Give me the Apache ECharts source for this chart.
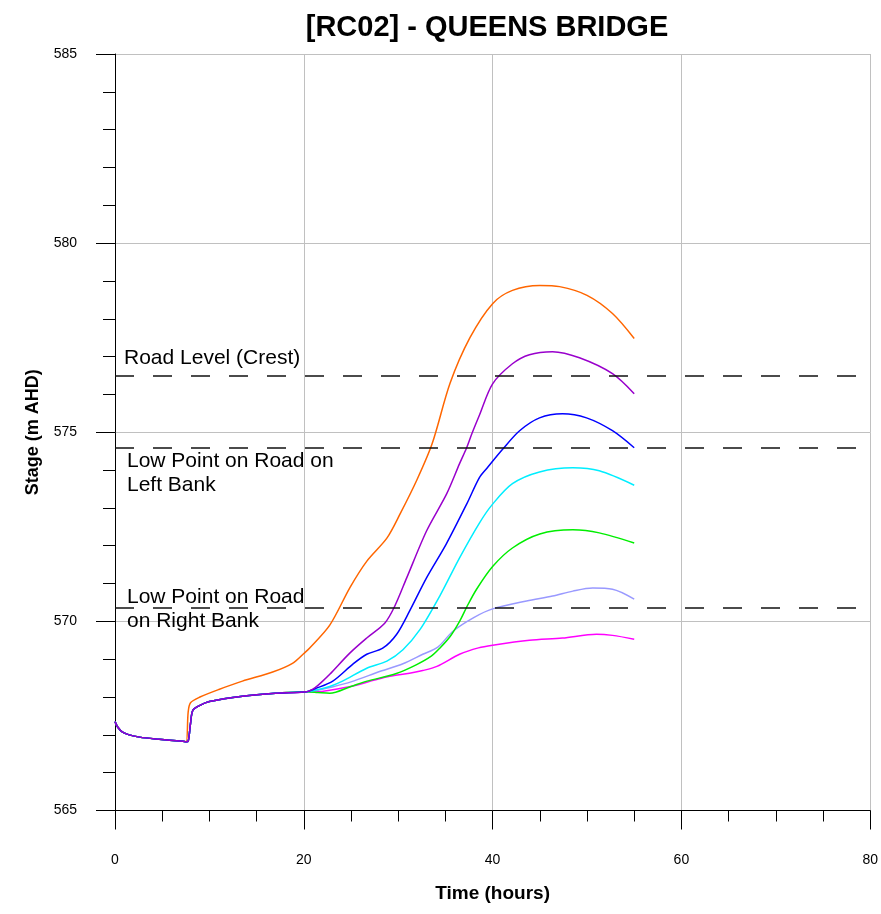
<!DOCTYPE html>
<html>
<head>
<meta charset="utf-8">
<title>[RC02] - QUEENS BRIDGE</title>
<script src="https://cdn.jsdelivr.net/npm/echarts@6/dist/echarts.min.js"></script>
<style>
  html, body { margin: 0; padding: 0; background: #fff; }
  #main { width: 881px; height: 914px; }
</style>
</head>
<body>
<div id="main"></div>
<script>
// stage hydrographs (time in hours, stage in m AHD)

// falling limb before the jump, shared by every run
var baseTimes = [0, 0.3, 0.8, 1.5, 2.6, 4.4, 7.2, 7.55];
var baseValues = [567.35, 567.2, 567.07, 567.0, 566.94, 566.89, 566.83, 566.82];

// jump and plateau shared by all runs except the orange one
var lowTimes = [7.75, 8.0, 8.25, 9.0, 10.0, 13.5, 17.0, 20.3];
var lowValues = [566.83, 567.3, 567.65, 567.78, 567.88, 568.02, 568.1, 568.14];

var orangeTimes = [7.75, 8.0, 9.0, 11.0, 13.5, 16.7, 18.8, 20.0, 20.6, 22.75, 24.9, 26.7, 28.8, 30.2, 32.0, 33.6, 35.5, 37.6, 40.0, 42.1, 45.0, 47.1, 50.0, 52.7, 55.0];
var orangeValues = [567.6, 567.85, 568.0, 568.2, 568.42, 568.66, 568.89, 569.15, 569.29, 569.9, 570.9, 571.6, 572.2, 572.84, 573.75, 574.7, 576.3, 577.5, 578.4, 578.75, 578.88, 578.85, 578.62, 578.14, 577.48];

var purpleTimes = [21.2, 22.0, 22.75, 24.87, 26.67, 28.57, 29.63, 30.9, 33.0, 35.13, 36.5, 37.25, 37.8, 38.6, 40.0, 42.1, 43.9, 46.35, 49.2, 52.7, 55.0];
var purpleValues = [568.25, 568.42, 568.6, 569.16, 569.56, 569.95, 570.4, 571.15, 572.39, 573.37, 574.17, 574.59, 574.96, 575.45, 576.28, 576.81, 577.05, 577.13, 576.97, 576.55, 576.02];

var blueTimes = [21.2, 23.07, 25.2, 26.67, 28.36, 29.84, 31.2, 33.0, 35.1, 37.25, 38.6, 39.4, 41.06, 42.86, 44.97, 47.4, 49.95, 52.7, 55.0];
var blueValues = [568.22, 568.42, 568.87, 569.13, 569.29, 569.66, 570.27, 571.15, 572.05, 573.1, 573.8, 574.05, 574.55, 575.04, 575.38, 575.49, 575.38, 575.04, 574.59];

var cyanTimes = [21.5, 22.75, 24.1, 26.67, 28.8, 30.5, 32.3, 34.4, 36.5, 38.6, 40.0, 42.1, 44.97, 48.5, 51.3, 55.0];
var cyanValues = [568.2, 568.28, 568.42, 568.76, 568.95, 569.25, 569.78, 570.67, 571.68, 572.6, 573.1, 573.64, 573.95, 574.06, 573.98, 573.6];

var greenTimes = [21.5, 22.75, 25.0, 26.7, 29.8, 31.9, 33.5, 34.4, 35.5, 36.5, 37.3, 38.3, 40.0, 42.1, 45.0, 48.5, 51.3, 55.0];
var greenValues = [568.12, 568.1, 568.28, 568.42, 568.62, 568.85, 569.08, 569.29, 569.6, 570.0, 570.4, 570.85, 571.45, 571.94, 572.31, 572.42, 572.34, 572.07];

var lavenderTimes = [21.5, 22.75, 25.0, 28.1, 30.5, 32.6, 34.2, 35.8, 38.0, 40.0, 43.6, 46.35, 48.5, 50.6, 52.7, 55.0];
var lavenderValues = [568.18, 568.25, 568.4, 568.68, 568.88, 569.13, 569.32, 569.74, 570.1, 570.33, 570.54, 570.67, 570.8, 570.88, 570.85, 570.59];

var magentaTimes = [21.5, 22.75, 25.3, 27.5, 29.1, 31.2, 32.6, 34.1, 36.5, 38.5, 40.0, 43.9, 47.4, 51.0, 52.7, 55.0];
var magentaValues = [568.14, 568.18, 568.3, 568.45, 568.55, 568.63, 568.7, 568.81, 569.13, 569.3, 569.37, 569.5, 569.56, 569.66, 569.63, 569.53];

// reference levels
var levelNames = ['Road Level (Crest)', 'Low Point on Road on\nLeft Bank', 'Low Point on Road\non Right Bank'];
var levelValues = [576.5, 574.6, 570.35];

var xTicks = [0, 20, 40, 60, 80];
var yTicks = [565, 570, 575, 580, 585];

function pairs(times, values) {
    var out = [];
    for (var i = 0; i < times.length; i++) out.push([times[i], values[i]]);
    return out;
}

function run(ownTimes, ownValues, withLow) {
    var d = pairs(baseTimes, baseValues);
    if (withLow) d = d.concat(pairs(lowTimes, lowValues));
    return d.concat(pairs(ownTimes, ownValues));
}

function line(name, color, data) {
    return {
        name: name,
        type: 'line',
        data: data,
        showSymbol: false,
        smooth: 0.3,
        lineStyle: { color: color, width: 1.5 },
        itemStyle: { color: color },
        animation: false,
        z: 3
    };
}

var myChart = echarts.init(document.getElementById('main'));

var levelLabels = [
    { position: 'insideStartTop', distance: [9, 5] },
    { position: 'insideStartBottom', distance: [12, 2] },
    { position: 'insideStartBottom', distance: [12, -23] }
];

var markData = levelValues.map(function (v, i) {
    return {
        yAxis: v,
        label: {
            show: true,
            formatter: levelNames[i],
            position: levelLabels[i].position,
            distance: levelLabels[i].distance,
            color: '#000',
            fontFamily: 'Liberation Sans, Arial, sans-serif',
            fontSize: 21,
            lineHeight: 24,
            align: 'left'
        }
    };
});

var series = [
    line('Run 1', '#ff6600', run(orangeTimes, orangeValues, false)),
    line('Run 7', '#ff00ff', run(magentaTimes, magentaValues, true)),
    line('Run 6', '#9999ff', run(lavenderTimes, lavenderValues, true)),
    line('Run 5', '#00ee00', run(greenTimes, greenValues, true)),
    line('Run 4', '#00eeff', run(cyanTimes, cyanValues, true)),
    line('Run 3', '#0000ff', run(blueTimes, blueValues, true)),
    line('Run 2', '#9900cc', run(purpleTimes, purpleValues, true))
];

series[0].markLine = {
    silent: true,
    symbol: 'none',
    animation: false,
    lineStyle: { color: '#111', width: 1.5, type: [19, 19] },
    data: markData
};

var option = {
    backgroundColor: '#fff',
    animation: false,
    title: {
        text: '[RC02] - QUEENS BRIDGE',
        left: 482,
        textAlign: 'center',
        top: 8,
        textStyle: {
            fontFamily: 'Liberation Sans, Arial, sans-serif',
            fontWeight: 'bold',
            fontSize: 29,
            color: '#000'
        }
    },
    grid: { left: 115, right: 10, top: 54, bottom: 103.5 },
    xAxis: {
        type: 'value',
        min: xTicks[0],
        max: xTicks[xTicks.length - 1],
        interval: 20,
        name: 'Time (hours)',
        nameLocation: 'middle',
        nameGap: 74,
        nameTextStyle: { fontFamily: 'Liberation Sans, Arial, sans-serif', fontWeight: 'bold', fontSize: 19, color: '#000' },
        axisLine: { onZero: false, lineStyle: { color: '#000', width: 1 } },
        axisTick: { length: 19, lineStyle: { color: '#000' } },
        minorTick: { show: true, splitNumber: 4, length: 11, lineStyle: { color: '#000' } },
        axisLabel: { margin: 43, fontFamily: 'Liberation Sans Narrow, Liberation Sans, Arial, sans-serif', fontSize: 14, color: '#000' },
        splitLine: { show: true, lineStyle: { color: '#c0c0c0', width: 1 } }
    },
    yAxis: {
        type: 'value',
        min: yTicks[0],
        max: yTicks[yTicks.length - 1],
        interval: 5,
        name: 'Stage (m AHD)',
        nameLocation: 'middle',
        nameGap: 73,
        nameTextStyle: { fontFamily: 'Liberation Sans, Arial, sans-serif', fontWeight: 'bold', fontSize: 18, color: '#000' },
        axisLine: { show: true, lineStyle: { color: '#000', width: 1 } },
        axisTick: { show: true, length: 19, lineStyle: { color: '#000' } },
        minorTick: { show: true, splitNumber: 5, length: 12, lineStyle: { color: '#000' } },
        axisLabel: { margin: 38, fontFamily: 'Liberation Sans Narrow, Liberation Sans, Arial, sans-serif', fontSize: 14, color: '#000' },
        splitLine: { show: true, lineStyle: { color: '#c0c0c0', width: 1 } }
    },
    series: series
};

myChart.setOption(option);
</script>
</body>
</html>
